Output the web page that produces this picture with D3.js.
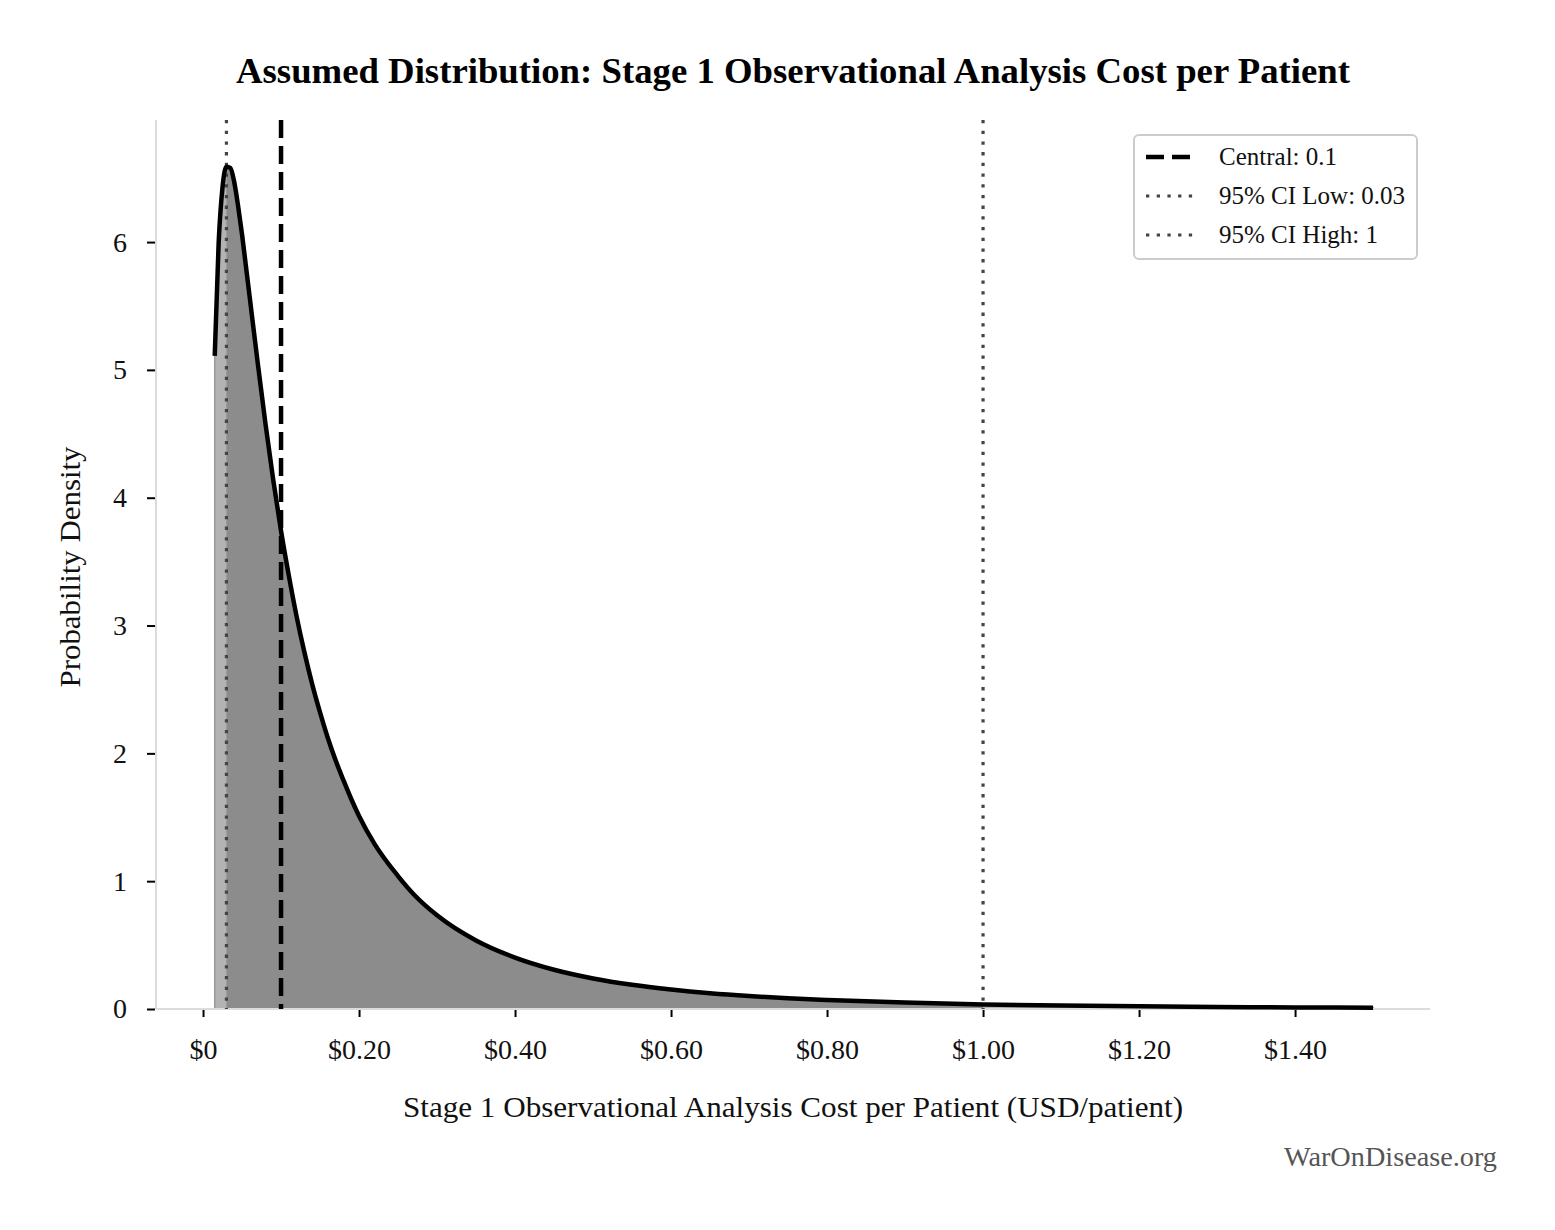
<!DOCTYPE html>
<html>
<head>
<meta charset="utf-8">
<style>
  body { margin: 0; background: #fff; }
  svg { display: block; font-family: "Liberation Serif", "DejaVu Serif", serif; }
</style>
</head>
<body>
<svg width="1555" height="1230"></svg>
<script src="https://d3js.org/d3.v7.min.js"></script>
<script>

// Cost per patient (USD) and probability density
var costs = [0.015, 0.02, 0.025, 0.03, 0.035, 0.04, 0.045, 0.05, 0.055, 0.06, 0.07, 0.08,
             0.09, 0.10, 0.11, 0.12, 0.13, 0.14, 0.15, 0.16, 0.17, 0.18, 0.19, 0.20,
             0.22, 0.25, 0.27, 0.30, 0.35, 0.40, 0.45, 0.50, 0.55, 0.60, 0.65, 0.70,
             0.75, 0.80, 0.90, 1.00, 1.10, 1.20, 1.30, 1.40, 1.50];
var density = [5.11, 5.99, 6.43, 6.59, 6.58, 6.47, 6.28, 6.06, 5.81, 5.56, 5.06, 4.58,
               4.14, 3.74, 3.39, 3.07, 2.79, 2.54, 2.32, 2.12, 1.945, 1.79, 1.643, 1.51,
               1.29, 1.04, 0.898, 0.733, 0.536, 0.402, 0.307, 0.239, 0.189, 0.152, 0.123, 0.101,
               0.0836, 0.070, 0.050, 0.036, 0.027, 0.021, 0.016, 0.0125, 0.0099];

var xTicks = [0, 0.2, 0.4, 0.6, 0.8, 1.0, 1.2, 1.4];
var yTicks = [0, 1, 2, 3, 4, 5, 6];

var central = 0.1, ciLow = 0.03, ciHigh = 1;
var legendLabels = ["Central: 0.1", "95% CI Low: 0.03", "95% CI High: 1"];

var svg = d3.select("svg");

// plot box (named to avoid clashing with window.top)
var plotL = 156, plotR = 1430, plotT = 120, plotB = 1009;

var x = d3.scaleLinear().domain([-0.0603, 1.573]).range([plotL, plotR]);
var y = d3.scaleLinear().domain([0, 6.955]).range([plotB, plotT]);

var pts = costs.map(function(c, i) { return { x: c, y: density[i] }; });

var area = d3.area()
    .x(function(d) { return x(d.x); })
    .y0(y(0))
    .y1(function(d) { return y(d.y); })
    .curve(d3.curveMonotoneX);

var line = d3.line()
    .x(function(d) { return x(d.x); })
    .y(function(d) { return y(d.y); })
    .curve(d3.curveMonotoneX);

// whole area, light
svg.append("path")
    .datum(pts)
    .attr("d", area)
    .attr("fill", "#b3b3b3")
    .attr("stroke", "#999")
    .attr("stroke-width", 1.5);

// confidence interval area, darker
svg.append("path")
    .datum(pts.filter(function(d) { return d.x >= ciLow && d.x <= ciHigh; }))
    .attr("d", area)
    .attr("fill", "#8c8c8c");

// spines
svg.append("line")
    .attr("x1", plotL).attr("x2", plotL).attr("y1", plotT).attr("y2", plotB)
    .attr("stroke", "#dcdcdc").attr("stroke-width", 2);
svg.append("line")
    .attr("x1", plotL).attr("x2", plotR).attr("y1", plotB).attr("y2", plotB)
    .attr("stroke", "#dcdcdc").attr("stroke-width", 2);

// reference lines
svg.append("line")
    .attr("x1", x(central)).attr("x2", x(central)).attr("y1", plotT).attr("y2", plotB)
    .attr("stroke", "#000").attr("stroke-width", 4.5)
    .attr("stroke-dasharray", "18,8");

[ciLow, ciHigh].forEach(function(v) {
  svg.append("line")
      .attr("x1", x(v)).attr("x2", x(v)).attr("y1", plotT).attr("y2", plotB)
      .attr("stroke", "#444").attr("stroke-width", 3.2)
      .attr("stroke-dasharray", "3.3,7.4");
});

// density curve
svg.append("path")
    .datum(pts)
    .attr("d", line)
    .attr("fill", "none")
    .attr("stroke", "#000")
    .attr("stroke-width", 4.5);

// x axis
var xAxis = svg.append("g")
    .attr("transform", "translate(0," + (plotB + 1) + ")")
    .call(d3.axisBottom(x).tickValues(xTicks).tickSize(7).tickPadding(22)
      .tickFormat(function(d) { return d === 0 ? "$0" : "$" + d.toFixed(2); }));
xAxis.select(".domain").remove();
xAxis.selectAll("line").attr("stroke", "#000").attr("stroke-width", 2);
xAxis.selectAll("text").attr("font-size", 28).attr("fill", "#111")
    .attr("font-family", "Liberation Serif, DejaVu Serif, serif");

// y axis
var yAxis = svg.append("g")
    .attr("transform", "translate(" + (plotL - 1) + ",0)")
    .call(d3.axisLeft(y).tickValues(yTicks).tickSize(8).tickPadding(20)
      .tickFormat(d3.format("d")));
yAxis.select(".domain").remove();
yAxis.selectAll("line").attr("stroke", "#000").attr("stroke-width", 2);
yAxis.selectAll("text").attr("font-size", 28).attr("fill", "#111")
    .attr("font-family", "Liberation Serif, DejaVu Serif, serif");

// title
svg.append("text")
    .attr("x", 793).attr("y", 83)
    .attr("text-anchor", "middle")
    .attr("font-size", 36).attr("font-weight", "bold")
    .attr("textLength", 1114).attr("lengthAdjust", "spacingAndGlyphs")
    .text("Assumed Distribution: Stage 1 Observational Analysis Cost per Patient");

// axis labels
svg.append("text")
    .attr("x", 793).attr("y", 1117)
    .attr("text-anchor", "middle")
    .attr("font-size", 30).attr("fill", "#111")
    .attr("textLength", 780).attr("lengthAdjust", "spacingAndGlyphs")
    .text("Stage 1 Observational Analysis Cost per Patient (USD/patient)");

svg.append("text")
    .attr("transform", "translate(80,567) rotate(-90)")
    .attr("text-anchor", "middle")
    .attr("font-size", 30).attr("fill", "#111")
    .attr("textLength", 241).attr("lengthAdjust", "spacingAndGlyphs")
    .text("Probability Density");

// watermark
svg.append("text")
    .attr("x", 1497).attr("y", 1166)
    .attr("text-anchor", "end")
    .attr("font-size", 27).attr("fill", "#555")
    .attr("textLength", 213).attr("lengthAdjust", "spacingAndGlyphs")
    .text("WarOnDisease.org");

// legend
var legend = svg.append("g").attr("transform", "translate(1134,135)");
legend.append("rect")
    .attr("width", 283).attr("height", 124)
    .attr("rx", 5)
    .attr("fill", "#fff").attr("stroke", "#cccccc").attr("stroke-width", 2);

var styles = [
  { color: "#000", width: 4.5, dash: "18,8" },
  { color: "#444", width: 3.2, dash: "3.3,7.4" },
  { color: "#444", width: 3.2, dash: "3.3,7.4" }
];

legendLabels.forEach(function(lbl, i) {
  var ly = 22 + i * 39;
  legend.append("line")
      .attr("x1", 12).attr("x2", 62).attr("y1", ly).attr("y2", ly)
      .attr("stroke", styles[i].color).attr("stroke-width", styles[i].width)
      .attr("stroke-dasharray", styles[i].dash);
  legend.append("text")
      .attr("x", 85).attr("y", ly + 8)
      .attr("font-size", 25).attr("fill", "#111")
      .text(lbl);
});

</script>
</body>
</html>
